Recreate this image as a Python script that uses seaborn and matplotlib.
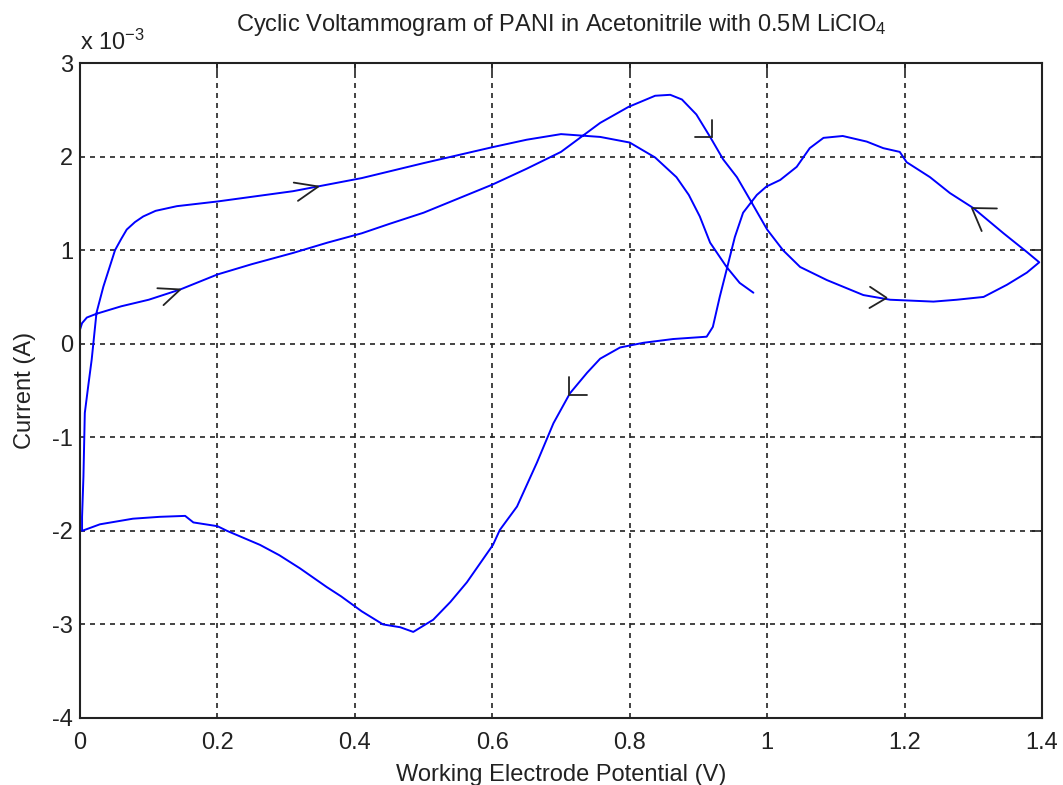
import numpy as np
import pandas as pd
import matplotlib
matplotlib.use("Agg")
import matplotlib.pyplot as plt
import seaborn as sns

# ---- data (potential in V, current in mA) ----
potential = [
    0.000, 0.003, 0.010, 0.024, 0.060, 0.100, 0.146, 0.200, 0.250, 0.310,
    0.360, 0.410, 0.450, 0.500, 0.550, 0.600, 0.650, 0.700, 0.757, 0.798,
    0.837, 0.859, 0.876, 0.897, 0.917, 0.936, 0.956, 0.975, 1.000, 1.023,
    1.048, 1.087, 1.140, 1.179, 1.242, 1.276, 1.315, 1.349, 1.378, 1.396,
    1.378, 1.344, 1.300, 1.266, 1.237, 1.203, 1.193, 1.169, 1.145, 1.110,
    1.082, 1.062, 1.043, 1.019, 0.999, 0.985, 0.965, 0.953, 0.941, 0.931,
    0.921, 0.912, 0.863, 0.820, 0.786, 0.757, 0.738, 0.713, 0.689, 0.665,
    0.636, 0.611, 0.601, 0.563, 0.539, 0.514, 0.485, 0.466, 0.441, 0.410,
    0.380, 0.359, 0.320, 0.290, 0.262, 0.214, 0.200, 0.165, 0.153, 0.116,
    0.077, 0.029, 0.003, 0.003, 0.005, 0.007, 0.012, 0.017, 0.024, 0.034,
    0.051, 0.060, 0.068, 0.080, 0.092, 0.110, 0.141, 0.200, 0.310, 0.410,
    0.500, 0.600, 0.650, 0.700, 0.757, 0.800, 0.837, 0.868, 0.886, 0.902,
    0.917, 0.941, 0.960, 0.980,
]
current_mA = [
    0.15, 0.22, 0.28, 0.32, 0.40, 0.47, 0.58, 0.74, 0.85, 0.97,
    1.08, 1.18, 1.28, 1.40, 1.55, 1.70, 1.87, 2.05, 2.36, 2.53,
    2.65, 2.66, 2.61, 2.45, 2.21, 1.97, 1.78, 1.54, 1.22, 1.00,
    0.82, 0.68, 0.52, 0.47, 0.45, 0.47, 0.50, 0.63, 0.76, 0.87,
    0.98, 1.18, 1.45, 1.61, 1.78, 1.94, 2.05, 2.09, 2.16, 2.22,
    2.20, 2.09, 1.89, 1.75, 1.68, 1.59, 1.40, 1.14, 0.79, 0.50,
    0.18, 0.075, 0.05, 0.01, -0.04, -0.16, -0.31, -0.53, -0.85, -1.27,
    -1.74, -1.99, -2.15, -2.55, -2.76, -2.95, -3.08, -3.03, -3.00, -2.86,
    -2.70, -2.60, -2.40, -2.26, -2.15, -2.00, -1.95, -1.91, -1.84, -1.85,
    -1.87, -1.93, -2.00, -1.85, -1.42, -0.74, -0.45, -0.17, 0.33, 0.61,
    1.00, 1.12, 1.22, 1.30, 1.36, 1.42, 1.47, 1.52, 1.63, 1.77,
    1.93, 2.10, 2.18, 2.24, 2.21, 2.15, 1.99, 1.78, 1.59, 1.36,
    1.08, 0.82, 0.65, 0.545,
]

# arrow heads: tip potential (V), tip current (mA), direction (deg), half-angle (deg), barb length (px)
arrow_v = [0.146, 0.347, 0.920, 1.174, 1.298, 0.712]
arrow_i = [0.58, 1.68, 2.21, 0.49, 1.45, -0.55]
arrow_dir = [20, 13, -45, -1.5, 146, 225]
arrow_half = [23, 22, 45, 32, 33, 45]
arrow_len = [23, 25, 17, 20, 25, 18]

xticks = [0, 0.2, 0.4, 0.6, 0.8, 1.0, 1.2, 1.4]
xtick_labels = ["0", "0.2", "0.4", "0.6", "0.8", "1", "1.2", "1.4"]
yticks_mA = [-4, -3, -2, -1, 0, 1, 2, 3]

title = "Cyclic Voltammogram of PANI in Acetonitrile with 0.5M LiClO$_4$"
xlabel = "Working Electrode Potential (V)"
ylabel = "Current (A)"

# ---- style ----
sns.set_style("white")
plt.rcParams["font.family"] = ["Liberation Sans", "DejaVu Sans"]
plt.rcParams["mathtext.fontset"] = "custom"
plt.rcParams["mathtext.rm"] = "Liberation Sans"
plt.rcParams["mathtext.it"] = "Liberation Sans"
plt.rcParams["axes.unicode_minus"] = False

FS = 17
TXT = "#222222"

df = pd.DataFrame({"potential": potential,
                   "current": np.array(current_mA) * 1e-3})

fig = plt.figure(figsize=(10.63, 7.85), dpi=100)
ax = fig.add_axes([80 / 1063, 1 - 718 / 785, (1042 - 80) / 1063, (718 - 63) / 785])

sns.lineplot(data=df, x="potential", y="current", sort=False, estimator=None,
             color="#0000ff", linewidth=1.4, ax=ax)

ax.set_xlim(0, 1.4)
ax.set_ylim(-4e-3, 3e-3)
ax.set_xticks(xticks)
ax.set_xticklabels(xtick_labels)
ax.set_yticks([t * 1e-3 for t in yticks_mA])
ax.set_yticklabels([str(t) for t in yticks_mA])

ax.grid(True, color=TXT, linestyle=(0, (3, 3)), linewidth=1.2)
for s in ax.spines.values():
    s.set_color(TXT)
    s.set_linewidth(1.5)
ax.tick_params(direction="in", length=7, width=1.2, color=TXT,
               top=True, right=True, labelsize=FS, labelcolor=TXT)
ax.tick_params(axis="x", pad=10)
ax.tick_params(axis="y", pad=5)

ax.set_title(title, fontsize=FS, pad=23, color=TXT)
ax.set_xlabel(xlabel, fontsize=FS, labelpad=7, color=TXT)
ax.set_ylabel(ylabel, fontsize=FS, labelpad=12, color=TXT)
ax.text(0.0, 1.012, "x 10$^{-3}$", transform=ax.transAxes, ha="left",
        va="bottom", fontsize=FS, color=TXT)

# arrow heads
fig.canvas.draw()
inv = ax.transData.inverted()
for v, i, d, h, L in zip(arrow_v, arrow_i, arrow_dir, arrow_half, arrow_len):
    tip = ax.transData.transform((v, i * 1e-3))
    pts = []
    for sgn in (1, -1):
        a = np.deg2rad(d + 180 + sgn * h)
        pts.append(tip + L * np.array([np.cos(a), np.sin(a)]))
    seq = np.array([pts[0], tip, pts[1]])
    dseq = inv.transform(seq)
    ax.plot(dseq[:, 0], dseq[:, 1], color=TXT, linewidth=1.3,
            solid_joinstyle="miter")

fig.savefig("out.png", dpi=100)
